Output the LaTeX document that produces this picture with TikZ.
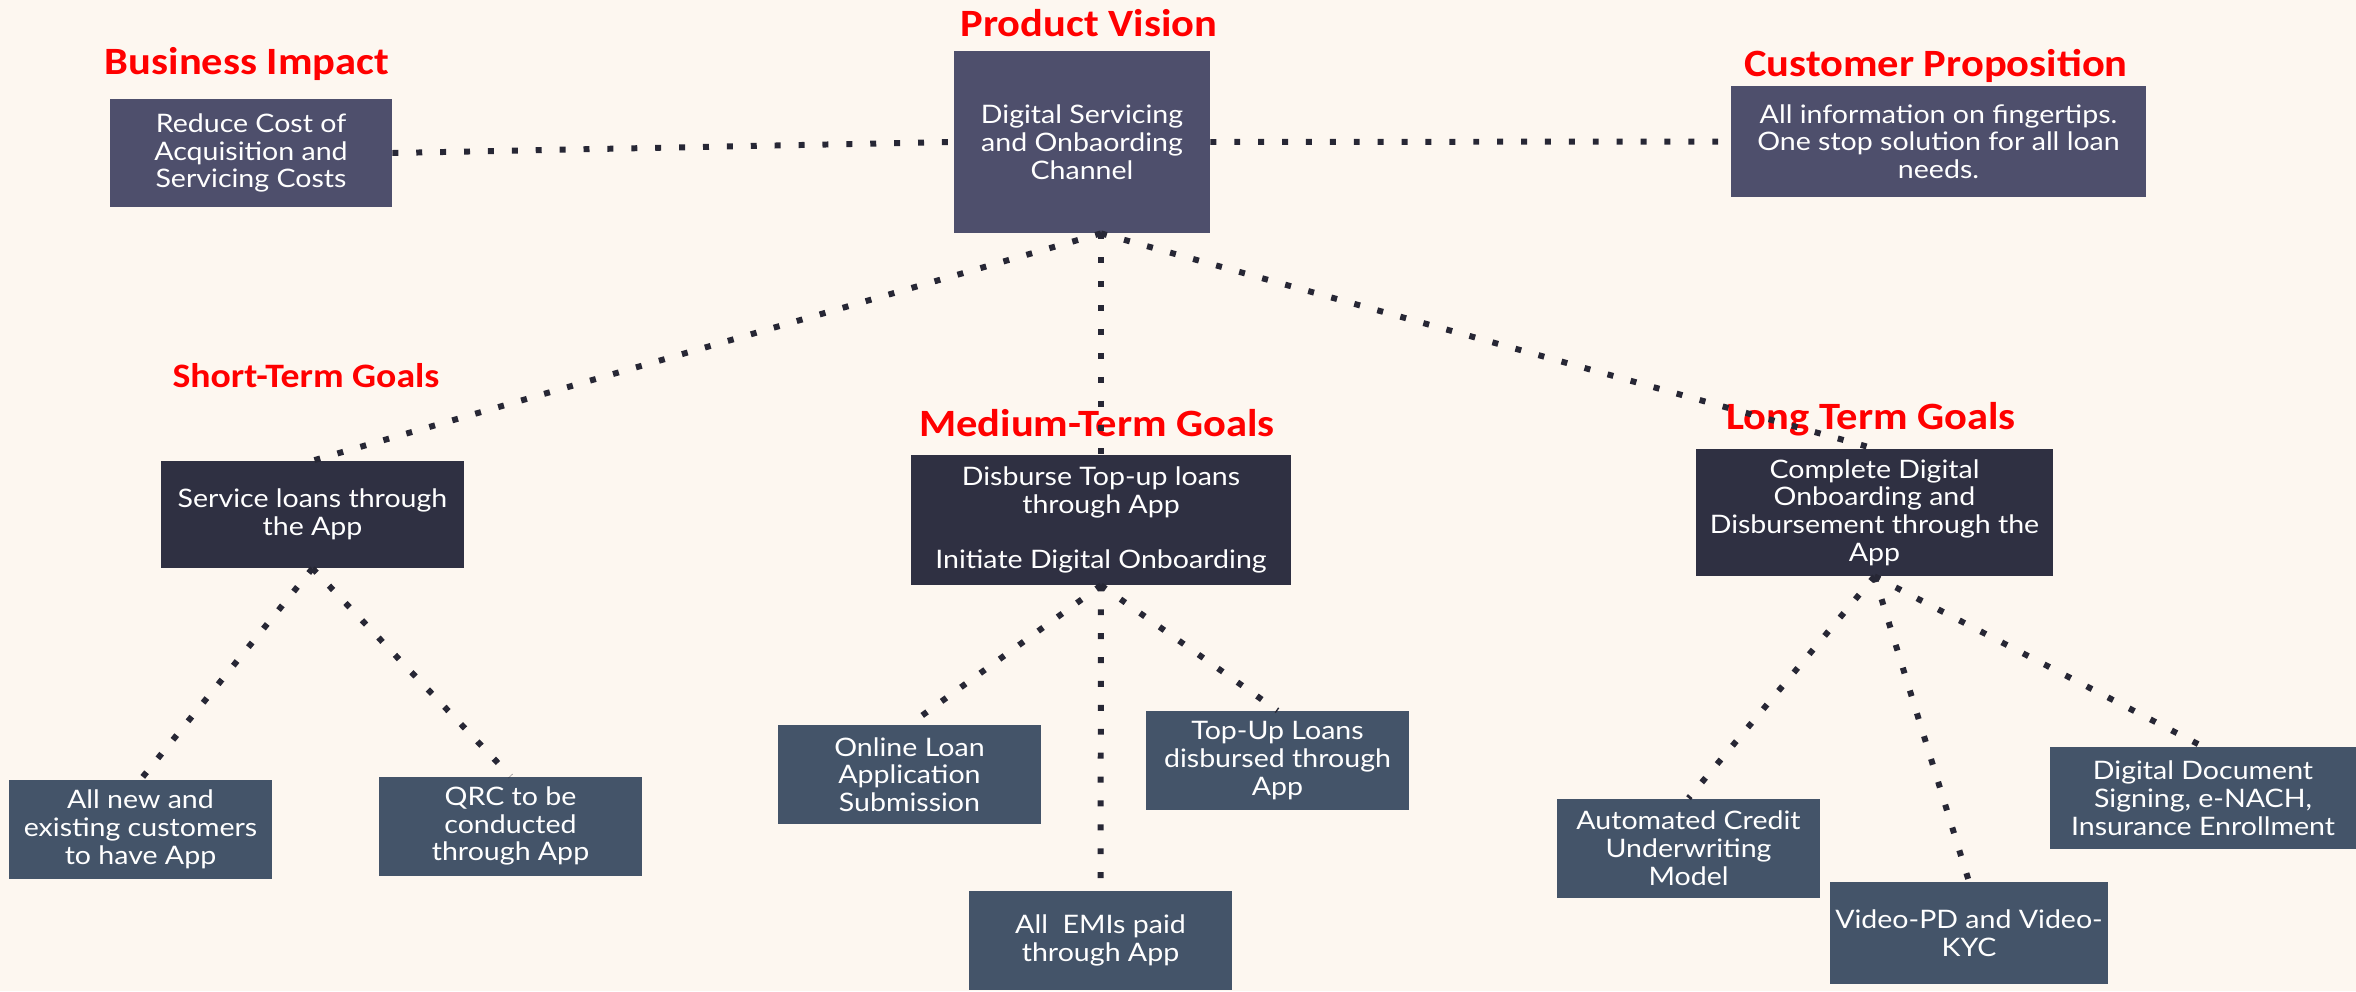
\documentclass[tikz,border=0pt]{standalone}
\usepackage{fontspec}
\setmainfont{Lato}[FakeStretch=1.12]
\newfontfamily\headfont{Carlito}[FakeStretch=1.1]
\usepackage{tikz}

\definecolor{paper}{HTML}{FDF7F0}
\definecolor{topbox}{HTML}{4E4F6C}
\definecolor{goalbox}{HTML}{2F3042}
\definecolor{leafbox}{HTML}{445469}
\definecolor{dotline}{HTML}{272735}

\begin{document}
\begin{tikzpicture}
	\fill[paper] (0,0) rectangle (47.12,-19.82);
	\useasboundingbox (0,0) rectangle (47.12,-19.82);

	% headings
	\begin{scope}[every node/.style={anchor=base,text=red,inner sep=0pt,font=\headfont\bfseries\fontsize{22}{26}\selectfont}]
		\node (tImp) at (4.94,-1.48) {Business Impact};
		\node (tVis) at (21.78,-0.72) {Product Vision};
		\node (tProp) at (38.72,-1.52) {Customer Proposition};
		\node[font=\headfont\bfseries\fontsize{19.5}{23}\selectfont] (tShort) at (6.12,-7.74) {Short-Term Goals};
		\node (tMed) at (21.94,-8.72) {Medium-Term Goals};
		\node (tLong) at (37.42,-8.58) {Long Term Goals};
	\end{scope}

	% top row
	\begin{scope}[every node/.style={fill=topbox,text=white,align=center,inner sep=0pt,font=\fontsize{14.5}{15.8}\selectfont}]
		\node[minimum width=5.64cm,minimum height=2.16cm] (Imp) at (5.02,-3.06) {Reduce Cost of\\Acquisition and\\Servicing Costs};
		\node[minimum width=5.12cm,minimum height=3.64cm] (Vis) at (21.64,-2.84) {Digital Servicing\\and Onbaording\\Channel};
		\node[minimum width=8.30cm,minimum height=2.22cm] (Prop) at (38.77,-2.83) {All information on fingertips.\\One stop solution for all loan\\needs.};
	\end{scope}

	% goals
	\begin{scope}[every node/.style={fill=goalbox,text=white,align=center,inner sep=0pt,font=\fontsize{14.5}{15.8}\selectfont}]
		\node[minimum width=6.06cm,minimum height=2.14cm] (Short) at (6.25,-10.29) {Service loans through\\the App};
		\node[minimum width=7.60cm,minimum height=2.60cm] (Med) at (22.02,-10.40) {Disburse Top-up loans\\through App\\[15.8pt]Initiate Digital Onboarding};
		\node[minimum width=7.14cm,minimum height=2.54cm] (Long) at (37.49,-10.25) {Complete Digital\\Onboarding and\\Disbursement through the\\App};
	\end{scope}

	% steps under each goal
	\begin{scope}[every node/.style={fill=leafbox,text=white,align=center,inner sep=0pt,minimum width=5.26cm,minimum height=1.98cm,font=\fontsize{14.5}{15.8}\selectfont}]
		\node (S1) at (2.81,-16.59) {All new and\\existing customers\\to have App};
		\node (S2) at (10.21,-16.52) {QRC to be\\conducted\\through App};
		\node (M1) at (18.19,-15.49) {Online Loan\\Application\\Submission};
		\node (M2) at (25.55,-15.21) {Top-Up Loans\\disbursed through\\App};
		\node (M3) at (22.01,-18.81) {All~ EMIs paid\\through App};
		\node (L1) at (33.77,-16.96) {Automated Credit\\Underwriting\\Model};
		\node[minimum width=5.56cm,minimum height=2.04cm] (L2) at (39.38,-18.66) {Video-PD and Video-\\KYC};
		\node[minimum width=6.12cm,minimum height=2.04cm] (L3) at (44.06,-15.96) {Digital Document\\Signing, e-NACH,\\Insurance Enrollment};
	\end{scope}

	\coordinate (VisFoot) at (Med.north |- Vis.south);

	\begin{scope}[every edge/.style={draw=dotline,line width=3.4pt,dash pattern=on 3.4pt off 10.2pt}]
		\path (Imp.east) edge (Vis.west);
		\path (Vis.east) edge (Prop.west);
		\path (VisFoot) edge (Short.north);
		\path (VisFoot) edge (Med.north);
		\path (VisFoot) edge (Long.north);
		\path (Short.south) edge (S1.north);
		\path (Short.south) edge (S2.north);
		\path (Med.south) edge (M1.north);
		\path (Med.south) edge (M2.north);
		\path (Med.south) edge (M3.north);
		\path (Long.south) edge (L1.north);
		\path (Long.south) edge (L2.north);
		\path (Long.south) edge (L3.north);
	\end{scope}
\end{tikzpicture}
\end{document}
